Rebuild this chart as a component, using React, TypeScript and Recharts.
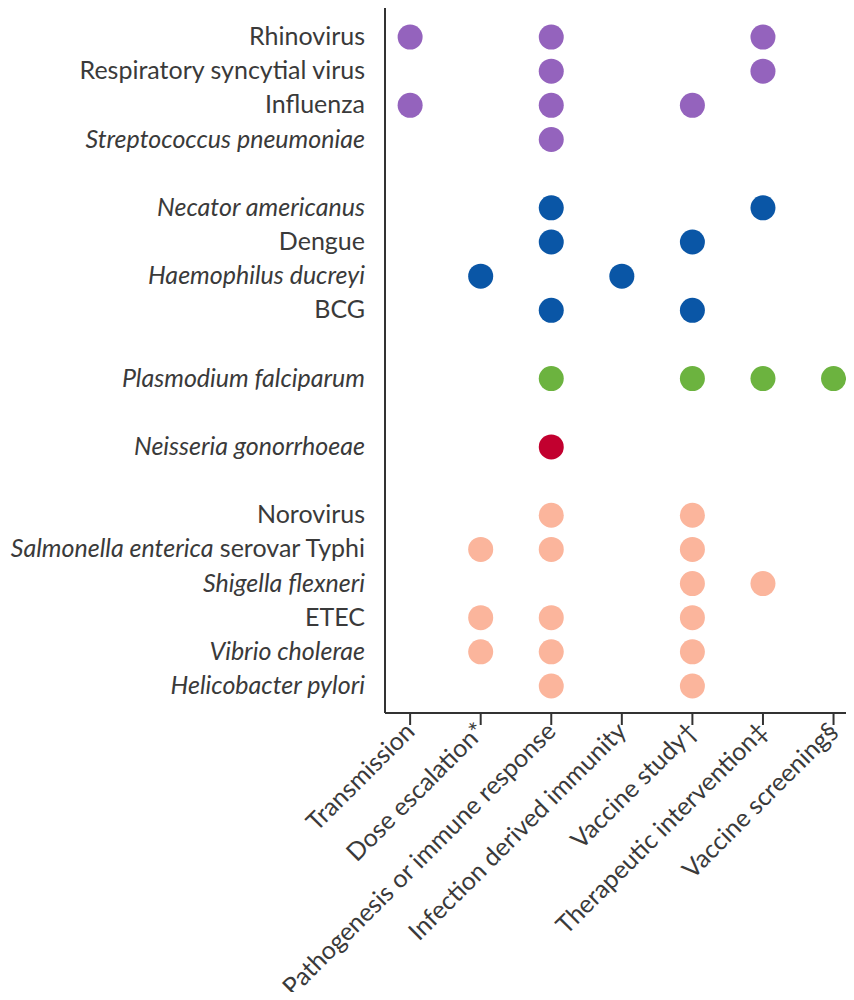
import React from "react";
import { ScatterChart, Scatter, XAxis, YAxis } from "recharts";

// study types along the x axis
const studyTypes = [
  "Transmission",
  "Dose escalation*",
  "Pathogenesis or immune response",
  "Infection derived immunity",
  "Vaccine study†",
  "Therapeutic intervention‡",
  "Vaccine screening§",
];

// pathogens down the y axis (slot = row position, gaps between groups)
const pathogenNames = [
  "Rhinovirus",
  "Respiratory syncytial virus",
  "Influenza",
  "Streptococcus pneumoniae",
  "Necator americanus",
  "Dengue",
  "Haemophilus ducreyi",
  "BCG",
  "Plasmodium falciparum",
  "Neisseria gonorrhoeae",
  "Norovirus",
  "Salmonella enterica serovar Typhi",
  "Shigella flexneri",
  "ETEC",
  "Vibrio cholerae",
  "Helicobacter pylori",
];
const pathogenSlots = [0, 1, 2, 3, 5, 6, 7, 8, 10, 12, 14, 15, 16, 17, 18, 19];
const italicNames = [
  "Streptococcus pneumoniae",
  "Necator americanus",
  "Haemophilus ducreyi",
  "Plasmodium falciparum",
  "Neisseria gonorrhoeae",
  "Shigella flexneri",
  "Vibrio cholerae",
  "Helicobacter pylori",
];

// which study types each pathogen has been used for, by group
const respiratory = [
  { name: "Rhinovirus", studies: [0, 2, 5] },
  { name: "Respiratory syncytial virus", studies: [2, 5] },
  { name: "Influenza", studies: [0, 2, 4] },
  { name: "Streptococcus pneumoniae", studies: [2] },
];
const systemic = [
  { name: "Necator americanus", studies: [2, 5] },
  { name: "Dengue", studies: [2, 4] },
  { name: "Haemophilus ducreyi", studies: [1, 3] },
  { name: "BCG", studies: [2, 4] },
];
const malaria = [{ name: "Plasmodium falciparum", studies: [2, 4, 5, 6] }];
const sti = [{ name: "Neisseria gonorrhoeae", studies: [2] }];
const enteric = [
  { name: "Norovirus", studies: [2, 4] },
  { name: "Salmonella enterica serovar Typhi", studies: [1, 2, 4] },
  { name: "Shigella flexneri", studies: [4, 5] },
  { name: "ETEC", studies: [1, 2, 4] },
  { name: "Vibrio cholerae", studies: [1, 2, 4] },
  { name: "Helicobacter pylori", studies: [2, 4] },
];

const groups = [
  { rows: respiratory, color: "#9463bd" },
  { rows: systemic, color: "#0a56a6" },
  { rows: malaria, color: "#6cb33f" },
  { rows: sti, color: "#c2002f" },
  { rows: enteric, color: "#fbb59c" },
];

const toPoints = (rows: { name: string; studies: number[] }[]) =>
  rows.flatMap((r) =>
    r.studies.map((s) => ({
      x: s,
      y: pathogenSlots[pathogenNames.indexOf(r.name)],
    }))
  );

const FONT = "Lato, sans-serif";
const TEXT = "#3a3a3a";

const YTick = (props: any) => {
  const { x, y, payload } = props;
  const name = pathogenNames[pathogenSlots.indexOf(payload.value)];
  if (!name) return null;
  let content: React.ReactNode = name;
  if (name.startsWith("Salmonella")) {
    content = (
      <>
        <tspan fontStyle="italic">Salmonella enterica</tspan>
        <tspan> serovar Typhi</tspan>
      </>
    );
  }
  return (
    <text
      x={x}
      y={y}
      dy={8}
      textAnchor="end"
      fill={TEXT}
      fontSize={25}
      fontFamily={FONT}
      fontStyle={italicNames.includes(name) ? "italic" : "normal"}
    >
      {content}
    </text>
  );
};

const XTick = (props: any) => {
  const { x, y, payload } = props;
  const label = studyTypes[payload.value];
  const ax = x + 6;
  const ay = y + 4;
  return (
    <text
      x={ax}
      y={ay}
      textAnchor="end"
      fill={TEXT}
      fontSize={25}
      fontFamily={FONT}
      transform={`rotate(-45 ${ax} ${ay})`}
    >
      {label}
    </text>
  );
};

const Dot = (props: any) => (
  <circle cx={props.cx} cy={props.cy} r={12.5} fill={props.fill} />
);

export default function App() {
  return (
    <div style={{ width: 854, height: 1000, margin: -8, background: "#fff" }}>
      <ScatterChart
        width={854}
        height={1000}
        margin={{ top: 7, right: 0, bottom: 0, left: 0 }}
      >
        <XAxis
          type="number"
          dataKey="x"
          domain={[-0.356, 6.29]}
          ticks={[0, 1, 2, 3, 4, 5, 6]}
          interval={0}
          height={287}
          tickSize={12}
          tickMargin={4}
          axisLine={{ stroke: "#333", strokeWidth: 2 }}
          tickLine={{ stroke: "#333", strokeWidth: 2 }}
          tick={<XTick />}
          allowDataOverflow
        />
        <YAxis
          type="number"
          dataKey="y"
          reversed
          domain={[-0.88, 19.79]}
          ticks={pathogenSlots}
          interval={0}
          width={385}
          tickSize={0}
          tickMargin={20}
          tickLine={false}
          axisLine={{ stroke: "#333", strokeWidth: 2 }}
          tick={<YTick />}
          allowDataOverflow
        />
        {groups.map((g, i) => (
          <Scatter
            key={i}
            data={toPoints(g.rows)}
            fill={g.color}
            shape={<Dot />}
            isAnimationActive={false}
          />
        ))}
      </ScatterChart>
    </div>
  );
}
